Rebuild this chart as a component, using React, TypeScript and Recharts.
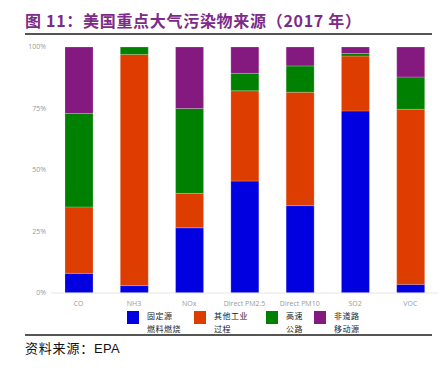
import React from "react";
import { BarChart, Bar, XAxis, YAxis } from "recharts";

const categories = ["CO", "NH3", "NOx", "Direct PM2.5", "Direct PM10", "SO2", "VOC"];
const stationaryFuel = [8, 3, 26.5, 45.5, 35.5, 74, 3.5];
const industrialProcess = [27, 94, 14, 36.7, 46.1, 22.3, 71.2];
const highway = [38, 3, 34.5, 7.1, 10.7, 1.1, 13.1];
const offHighway = [27, 0, 25, 10.7, 7.7, 2.6, 12.2];
const yTicks = [0, 25, 50, 75, 100];

const seriesNames = ["固定源\n燃料燃烧", "其他工业\n过程", "高速\n公路", "非道路\n移动源"];
const seriesColors = ["#0000e0", "#de3d00", "#008000", "#84197f"];
const seriesKeys = ["s0", "s1", "s2", "s3"];

const data = categories.map((c, i) => ({
  name: c,
  s0: stationaryFuel[i],
  s1: industrialProcess[i],
  s2: highway[i],
  s3: offHighway[i],
}));

const legendX = [127, 194, 266, 314];

export default function App() {
  return (
    <div
      style={{
        position: "absolute",
        left: 0,
        top: 0,
        width: 439,
        height: 368,
        background: "#fff",
        fontFamily: "'Noto Sans CJK SC', sans-serif",
      }}
    >
      <div
        style={{
          position: "absolute",
          left: 25,
          top: 9,
          fontSize: 16,
          fontWeight: 700,
          color: "#7d2b89",
          whiteSpace: "nowrap",
          lineHeight: "22px",
          letterSpacing: 0.7,
        }}
      >
        图 11：美国重点大气污染物来源（2017 年）
      </div>
      <div style={{ position: "absolute", left: 25, top: 33, width: 407, height: 2, background: "#555" }} />

      <div style={{ position: "absolute", left: 0, top: 0 }}>
        <BarChart
          width={439}
          height={310}
          data={data}
          margin={{ top: 47, right: 1, left: 0, bottom: 0 }}
          barSize={28}
        >
          <XAxis
            dataKey="name"
            height={17}
            tickLine={false}
            axisLine={{ stroke: "#e6e6e6" }}
            tick={{ fontSize: 7, fill: "#999", fontFamily: "'Open Sans', sans-serif" }}
            tickMargin={2}
            interval={0}
          />
          <YAxis
            width={51}
            domain={[0, 100]}
            ticks={yTicks}
            tickFormatter={(v: number) => v + "%"}
            axisLine={false}
            tickLine={false}
            tickSize={0}
            tickMargin={5}
            tick={{ fontSize: 7, fill: "#999", fontFamily: "'Open Sans', sans-serif" }}
          />
          {seriesKeys.map((k, i) => (
            <Bar
              key={k}
              dataKey={k}
              stackId="a"
              fill={seriesColors[i]}
              stroke="#ffffff"
              strokeOpacity={0.35}
              strokeWidth={0.6}
              isAnimationActive={false}
            />
          ))}
        </BarChart>
      </div>

      {seriesNames.map((n, i) => (
        <div key={n} style={{ position: "absolute", left: legendX[i], top: 311 }}>
          <div style={{ position: "absolute", left: 0, top: 0, width: 12, height: 13, background: seriesColors[i] }} />
          <div
            style={{
              position: "absolute",
              left: 20,
              top: -2,
              fontSize: 8,
              lineHeight: "13px",
              color: "#222",
              whiteSpace: "pre",
              letterSpacing: 0.5,
            }}
          >
            {n}
          </div>
        </div>
      ))}

      <div style={{ position: "absolute", left: 25, top: 334, width: 407, height: 2, background: "#555" }} />
      <div
        style={{
          position: "absolute",
          left: 25,
          top: 339,
          fontSize: 13,
          lineHeight: "18px",
          color: "#111",
          whiteSpace: "nowrap",
          letterSpacing: 0.8,
        }}
      >
        资料来源：<span style={{ fontFamily: "'Liberation Sans', sans-serif", letterSpacing: 0.3 }}>EPA</span>
      </div>
    </div>
  );
}
